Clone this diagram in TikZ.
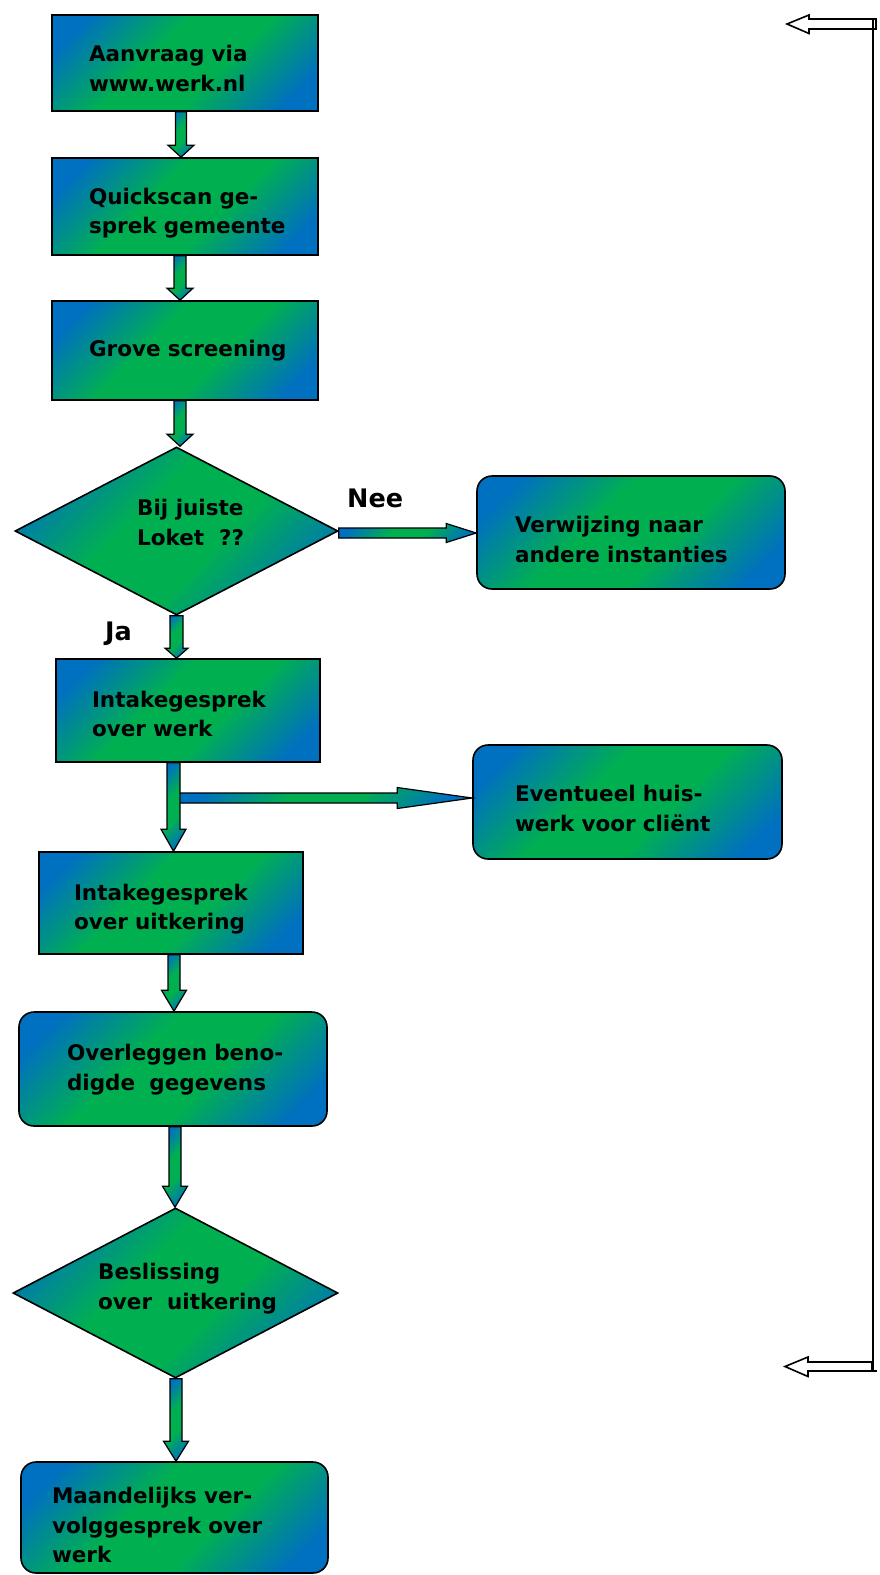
\documentclass[tikz,border=0pt]{standalone}
\usepackage{fontspec}
\setmainfont{DejaVu Sans}
\usetikzlibrary{shapes.geometric,calc}
\hyphenpenalty=10000
\exhyphenpenalty=10000
\definecolor{cblue}{RGB}{0,112,192}
\definecolor{cgreen}{RGB}{0,176,80}
\pgfdeclareverticalshading{bluegreen}{100bp}{color(0bp)=(cblue); color(22bp)=(cblue); color(42bp)=(cgreen); color(58bp)=(cgreen); color(78bp)=(cblue); color(100bp)=(cblue)}
\tikzset{
  flow/.style={draw=black, line width=1.6pt, shading=bluegreen, shading angle=45,
    font=\fontsize{21.5}{29.5}\selectfont\bfseries, align=left, inner ysep=0pt},
  sqbox/.style={flow, rectangle},
  rbox/.style={flow, rectangle, rounded corners=15pt},
  dec/.style={flow, diamond, inner sep=0pt},
  lower/.style={execute at begin node={\rule{0pt}{#1}}},
  dtext/.style={font=\fontsize{21.5}{30}\selectfont\bfseries, align=left, inner sep=0pt, anchor=north west},
  lbl/.style={font=\fontsize{25.5}{28}\selectfont\bfseries, inner sep=0pt, anchor=base west},
  blockarrow/.style={draw=black, line width=1.2pt, shading=bluegreen, shading angle=45},
  hollow/.style={draw=black, line width=1.6pt, fill=white},
  bracketline/.style={draw=black, line width=1.6pt},
}
% vertical block arrow: from #1.south to #2.north at x=#3, shaft half width #4, head half width #5, head length #6
\newcommand\vblock[6]{%
  \path[blockarrow] let \p1=(#1.south), \p2=(#2.north) in
  (#3pt-#4pt,\y1) -- (#3pt+#4pt,\y1) -- (#3pt+#4pt,\y2+#6pt) -- (#3pt+#5pt,\y2+#6pt)
  -- (#3pt,\y2) -- (#3pt-#5pt,\y2+#6pt) -- (#3pt-#4pt,\y2+#6pt) -- cycle;}
% horizontal block arrow: from #1 to #2 at y=#3 (px, downward), shaft half width #4, head half width #5, head length #6
\newcommand\hblock[6]{%
  \path[blockarrow] let \p1=(#1), \p2=(#2) in
  (\x1,-#3pt+#4pt) -- (\x2-#6pt,-#3pt+#4pt) -- (\x2-#6pt,-#3pt+#5pt) -- (\x2,-#3pt)
  -- (\x2-#6pt,-#3pt-#5pt) -- (\x2-#6pt,-#3pt-#4pt) -- (\x1,-#3pt-#4pt) -- cycle;}
\begin{document}
\begin{tikzpicture}[x=1pt,y=-1pt]
\useasboundingbox (0,0) rectangle (880,1575);

% boxes
\node[sqbox, lower=27pt, minimum width=266pt, minimum height=96pt, inner xsep=37pt, text width=192pt] (b1) at (185,63) {Aanvraag~via\\www.werk.nl};
\node[sqbox, lower=30pt, minimum width=266pt, minimum height=97pt, inner xsep=37pt, text width=192pt] (b2) at (185,206.5) {Quickscan~ge-\\sprek~gemeente};
\node[sqbox, minimum width=266pt, minimum height=99pt, inner xsep=37pt, text width=192pt] (b3) at (185,350.5) {Grove~screening};
\node[dec, minimum width=323pt, minimum height=168pt] (d1) at (176.5,531) {};
\node[dtext] (d1t) at (137,499) {Bij~juiste\\Loket~~??};
\node[rbox, lower=30pt, minimum width=308pt, minimum height=113pt, inner xsep=38pt, text width=232pt] (verw) at (631,532.5) {Verwijzing~naar\\andere~instanties};
\node[sqbox, lower=23pt, minimum width=264pt, minimum height=103pt, inner xsep=36pt, text width=192pt] (intw) at (188,710.5) {Intakegesprek\\over~werk};
\node[rbox, lower=29pt, minimum width=309pt, minimum height=114pt, inner xsep=42pt, text width=225pt] (event) at (627.5,802) {Eventueel~huis-\\werk~voor~cliënt};
\node[sqbox, lower=29pt, minimum width=264pt, minimum height=102pt, inner xsep=35pt, text width=194pt] (intu) at (171,903) {Intakegesprek\\over~uitkering};
\node[rbox, lower=18pt, minimum width=308pt, minimum height=114pt, inner xsep=48pt, text width=212pt] (overl) at (173,1069) {Overleggen~beno-\\digde~~gegevens};
\node[dec, minimum width=325pt, minimum height=170pt] (d2) at (175.5,1293) {};
\node[dtext] (d2t) at (98,1263) {Beslissing\\over~~uitkering};
\node[rbox, lower=32pt, minimum width=307pt, minimum height=111pt, inner xsep=31pt, text width=245pt] (maand) at (174.5,1517.5) {Maandelijks~ver-\\volggesprek~over\\werk};

% labels
\node[lbl] (nee) at (347,507) {Nee};
\node[lbl] (ja) at (105,640) {Ja};

% block arrows
\vblock{b1}{b2}{181}{5.5}{13}{12}
\vblock{b2}{b3}{180}{6}{13}{12}
\vblock{b3}{d1}{180}{6}{13}{12}
\vblock{d1}{intw}{176.5}{6.5}{11.5}{10}
\coordinate (brs) at (176,798);
\hblock{brs}{event.west}{798}{5}{10.5}{75}
\vblock{intw}{intu}{173.5}{6.5}{12.5}{22}
\vblock{intu}{overl}{174}{6}{12.5}{21}
\vblock{overl}{d2}{175}{6}{12.5}{21}
\vblock{d2}{maand}{176}{6}{12.5}{20}
\hblock{d1.east}{verw.west}{533}{5}{9.5}{30}

% right-hand bracket with hollow arrows
\coordinate (bt) at (873,19);
\coordinate (bb) at (873,1371);
\draw[hollow] (876,19) -- (809,19) -- (809,15) -- (787,24) -- (809,33.5) -- (809,29) -- (876,29) -- cycle;
\draw[hollow] (872,1362) -- (808,1362) -- (808,1357) -- (785,1366.5) -- (808,1376.5) -- (808,1371) -- (872,1371) -- cycle;
\draw[bracketline] (bt) -- (bb) -- ++(4,0);
\end{tikzpicture}
\end{document}
